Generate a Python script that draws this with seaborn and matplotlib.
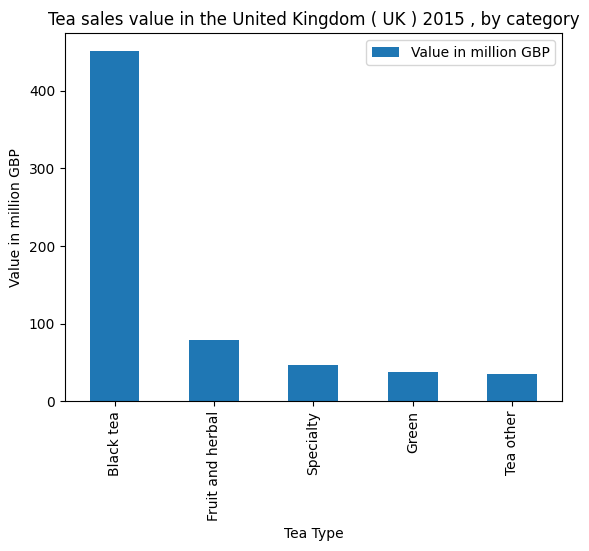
import matplotlib
matplotlib.use('Agg')
import matplotlib.pyplot as plt
import seaborn as sns
import pandas as pd

tea_type = ['Black tea', 'Fruit and herbal', 'Specialty', 'Green', 'Tea other']
value = [452, 78.5, 46.3, 37.3, 34.7]

df = pd.DataFrame({'Tea Type': tea_type, 'Value in million GBP': value})

fig, ax = plt.subplots(figsize=(5.89, 5.51), dpi=100)
fig.subplots_adjust(left=0.110, right=0.954, top=0.940, bottom=0.272)

sns.barplot(data=df, x='Tea Type', y='Value in million GBP', color='#1f77b4',
            saturation=1, width=0.5, label='Value in million GBP', ax=ax)

ax.set_title('Tea sales value in the United Kingdom ( UK ) 2015 , by category')
ax.set_xlabel('Tea Type')
ax.set_ylabel('Value in million GBP')
ax.set_xlim(-0.5, len(tea_type) - 0.5)
ax.tick_params(axis='x', labelrotation=90)
ax.legend(loc='upper right')

plt.savefig('out.png')
